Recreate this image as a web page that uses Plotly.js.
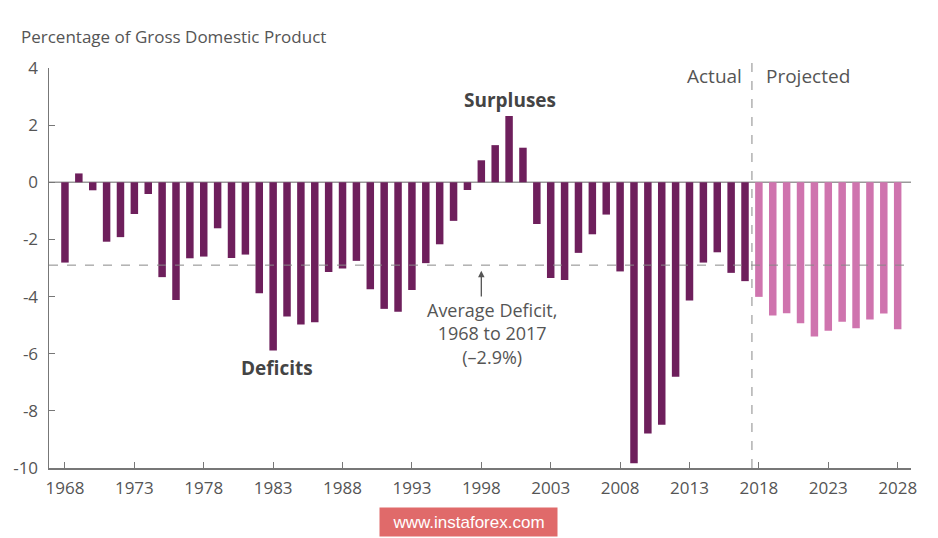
<!DOCTYPE html>
<html>
<head>
<meta charset="utf-8">
<script src="https://cdn.plot.ly/plotly-3.0.1.min.js"></script>
<style>html,body{margin:0;padding:0;background:#fff;}#chart{width:938px;height:538px;}</style>
</head>
<body>
<div id="chart"></div>
<script>
const actualYears = [1968,1969,1970,1971,1972,1973,1974,1975,1976,1977,1978,1979,1980,1981,1982,1983,1984,1985,1986,1987,1988,1989,1990,1991,1992,1993,1994,1995,1996,1997,1998,1999,2000,2001,2002,2003,2004,2005,2006,2007,2008,2009,2010,2011,2012,2013,2014,2015,2016,2017];
const actualValues = [-2.81,0.31,-0.28,-2.08,-1.92,-1.11,-0.41,-3.32,-4.12,-2.66,-2.60,-1.61,-2.65,-2.53,-3.88,-5.89,-4.70,-4.98,-4.90,-3.14,-3.02,-2.75,-3.74,-4.43,-4.53,-3.77,-2.83,-2.17,-1.35,-0.27,0.77,1.30,2.32,1.21,-1.46,-3.35,-3.42,-2.47,-1.82,-1.13,-3.12,-9.83,-8.79,-8.49,-6.81,-4.14,-2.81,-2.45,-3.17,-3.46];
const projYears = [2018,2019,2020,2021,2022,2023,2024,2025,2026,2027,2028];
const projValues = [-4.01,-4.66,-4.58,-4.93,-5.40,-5.20,-4.88,-5.11,-4.80,-4.59,-5.14];
const tickYears = [1968,1973,1978,1983,1988,1993,1998,2003,2008,2013,2018,2023,2028];
const yTicks = [4,2,0,-2,-4,-6,-8,-10];
const averageDeficit = -2.9;
const splitYear = 2017.5;
const avgLabelLines = ['Average Deficit,', '1968 to 2017', '(–2.9%)'];

const textColor = '#555555';
const fontFam = '"Open Sans", Lato, sans-serif';

const traces = [
  {type:'bar', x:actualYears, y:actualValues, width:0.54, marker:{color:'#6e1f5c', line:{width:0}}, hoverinfo:'x+y'},
  {type:'bar', x:projYears, y:projValues, width:0.54, marker:{color:'#cf74ae', line:{width:0}}, hoverinfo:'x+y'}
];

const layout = {
  width:938, height:538,
  margin:{l:49, r:27, t:68, b:70},
  paper_bgcolor:'#fff', plot_bgcolor:'#fff',
  showlegend:false,
  font:{family:fontFam, color:textColor, size:17},
  xaxis:{range:[1966.85,2028.96], tickvals:tickYears, ticktext:tickYears.map(String),
         ticks:'inside', ticklen:6, tickcolor:'#777', showgrid:false, zeroline:false, ticklabelstandoff:4,
         showline:true, linecolor:'#777', linewidth:1.5, tickfont:{size:17,color:textColor,family:fontFam}},
  yaxis:{range:[-10,4], tickvals:yTicks, ticktext:yTicks.map(String),
         ticks:'inside', ticklen:6, tickcolor:'#777', showgrid:false, zeroline:false, ticklabelstandoff:6,
         showline:true, linecolor:'#777', linewidth:1.5, tickfont:{size:17,color:textColor,family:fontFam}},
  shapes:[
    {type:'line', xref:'paper', x0:0, x1:1, yref:'y', y0:0, y1:0, line:{color:'#999', width:1.5}, layer:'below'},
    {type:'line', xref:'paper', x0:0, x1:1, yref:'y', y0:averageDeficit, y1:averageDeficit, line:{color:'#888', width:1, dash:'dash'}},
    {type:'line', xref:'x', x0:splitYear, x1:splitYear, yref:'paper', y0:0, y1:1.015, line:{color:'#888', width:1, dash:'dash'}}
  ],
  annotations:[
    {text:'Percentage of Gross Domestic Product', xref:'paper', yref:'paper', x:-0.035, y:1.045, xanchor:'left', yanchor:'bottom', showarrow:false, font:{size:17,color:textColor}},
    {text:'<b>Surpluses</b>', xref:'x', yref:'y', x:2000.1, y:2.88, xanchor:'center', yanchor:'middle', showarrow:false, font:{size:19,color:'#444'}},
    {text:'<b>Deficits</b>', xref:'x', yref:'y', x:1983.3, y:-6.5, xanchor:'center', yanchor:'middle', showarrow:false, font:{size:19,color:'#444'}},
    {text:avgLabelLines.join('<br>'), xref:'x', yref:'y', x:1998.8, y:-5.3, xanchor:'center', yanchor:'middle', align:'center', showarrow:false, font:{size:18, color:textColor, family:fontFam}},
    {text:'', xref:'x', yref:'y', x:1998.0, y:-3.1, ax:1998.0, ay:-4.05, axref:'x', ayref:'y', showarrow:true, arrowhead:2, arrowsize:1, arrowwidth:1.3, arrowcolor:'#555'},
    {text:'Actual', xref:'x', yref:'paper', x:2016.95, y:0.98, xanchor:'right', yanchor:'middle', showarrow:false, font:{size:19,color:textColor}},
    {text:'Projected', xref:'x', yref:'paper', x:2018.4, y:0.98, xanchor:'left', yanchor:'middle', showarrow:false, font:{size:19,color:textColor}},
    {text:'www.instaforex.com', xref:'paper', yref:'paper', x:0.4867, y:-0.135, xanchor:'center', yanchor:'middle', showarrow:false, bgcolor:'#e06a6a', borderpad:4, font:{size:17,color:'#ffffff',family:'Arial, sans-serif'}, width:169, height:20}
  ]
};

Plotly.newPlot('chart', traces, layout, {displayModeBar:false, staticPlot:true});
</script>
</body>
</html>
